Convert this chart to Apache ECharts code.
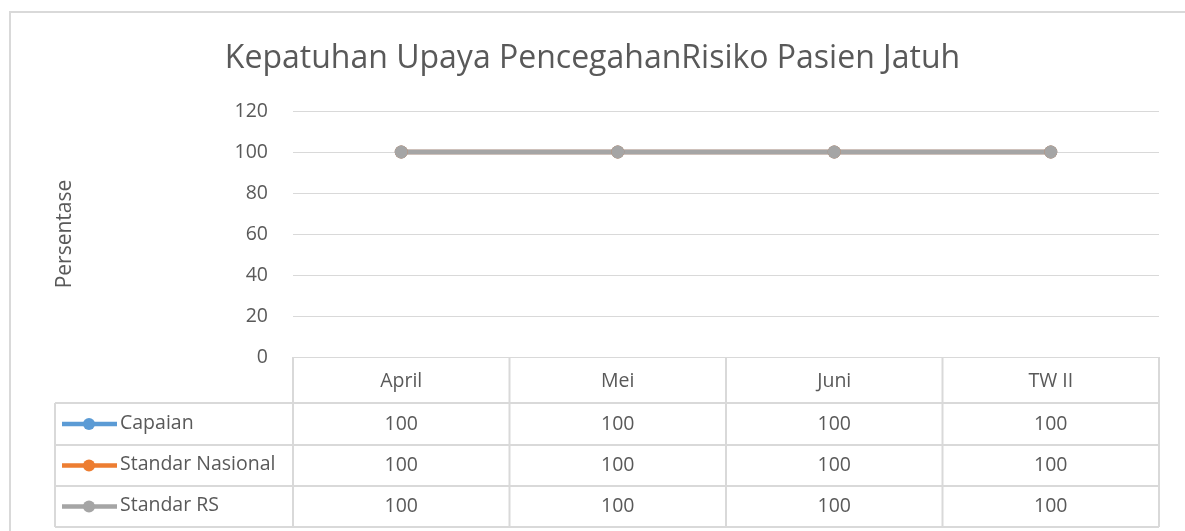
<!DOCTYPE html>
<html>
<head>
<meta charset="utf-8">
<script src="https://cdn.jsdelivr.net/npm/echarts@6/dist/echarts.min.js"></script>
<style>
  html, body { margin: 0; padding: 0; background: #fff; }
  #chart { width: 1185px; height: 531px; }
</style>
</head>
<body>
<div id="chart"></div>
<script>
// data
const categories = ['April', 'Mei', 'Juni', 'TW II'];
const capaian = [100, 100, 100, 100];
const standarNasional = [100, 100, 100, 100];
const standarRS = [100, 100, 100, 100];
const seriesNames = ['Capaian', 'Standar Nasional', 'Standar RS'];
const seriesColors = ['#5b9bd5', '#ed7d31', '#a5a5a5'];
const seriesData = [capaian, standarNasional, standarRS];

const font = '"Open Sans", "Noto Sans", sans-serif';
const txt = '#595959';
const lineCol = '#d9d9d9';

const gridLeft = 293, gridRight = 26, gridTop = 111, gridBottom = 174;
// table row edges (below the plot)
const rowTops = [403, 445, 486, 527];
const tableLeft = 55;

let chart = echarts.init(document.getElementById('chart'));

let option = {
    animation: false,
    backgroundColor: '#fff',
    title: {
        text: 'Kepatuhan Upaya PencegahanRisiko Pasien Jatuh',
        left: 'center',
        top: 38,
        textStyle: { fontFamily: font, fontSize: 32, fontWeight: 'normal', color: txt }
    },
    grid: { left: gridLeft, right: gridRight, top: gridTop, bottom: gridBottom },
    xAxis: {
        type: 'category',
        data: categories,
        boundaryGap: true,
        axisLine: { lineStyle: { color: lineCol, width: 1 } },
        axisTick: { show: false },
        axisLabel: { margin: 14, fontFamily: font, fontSize: 19.5, color: txt }
    },
    yAxis: {
        type: 'value',
        min: 0,
        max: 120,
        interval: 20,
        name: 'Persentase',
        nameLocation: 'middle',
        nameGap: 217,
        nameTextStyle: { fontFamily: font, fontSize: 21, color: txt },
        axisLine: { show: false },
        axisTick: { show: false },
        axisLabel: { margin: 25, fontFamily: font, fontSize: 19.5, color: txt },
        splitLine: { lineStyle: { color: lineCol, width: 1 } }
    },
    series: seriesNames.map((name, i) => ({
        name: name,
        type: 'line',
        data: seriesData[i],
        symbol: 'circle',
        symbolSize: 13,
        lineStyle: { color: seriesColors[i], width: 4.5 },
        itemStyle: { color: seriesColors[i] }
    }))
};

chart.setOption(option);

// data table under the plot, built from the axis positions
function buildTable() {
    const band = (1185 - gridLeft - gridRight) / categories.length;
    const centers = categories.map((c, i) => chart.convertToPixel({ xAxisIndex: 0 }, i));
    const edges = [gridLeft].concat(centers.map(c => c + band / 2));
    const right = edges[edges.length - 1];
    const plotBottom = 531 - gridBottom;
    const els = [];
    const ln = (x1, y1, x2, y2) => els.push({
        type: 'line', silent: true,
        shape: { x1: x1, y1: y1, x2: x2, y2: y2 },
        style: { stroke: lineCol, lineWidth: 2 }
    });
    // outer chart border
    els.push({
        type: 'rect', silent: true,
        shape: { x: 10, y: 12, width: 1190, height: 530 },
        style: { fill: null, stroke: lineCol, lineWidth: 2 }
    });
    rowTops.forEach(y => ln(tableLeft, y, right, y));
    ln(tableLeft, rowTops[0], tableLeft, rowTops[rowTops.length - 1]);
    edges.forEach(x => ln(x, plotBottom, x, rowTops[rowTops.length - 1]));
    seriesNames.forEach((name, r) => {
        const yc = (rowTops[r] + rowTops[r + 1]) / 2;
        ln(62, yc, 117, yc);
        els[els.length - 1].style = { stroke: seriesColors[r], lineWidth: 4.5 };
        els.push({
            type: 'circle', silent: true,
            shape: { cx: 89, cy: yc, r: 6 },
            style: { fill: seriesColors[r] }
        });
        els.push({
            type: 'text', silent: true, x: 120, y: yc - 1,
            style: { text: name, fill: txt, font: '19.5px ' + font, verticalAlign: 'middle', align: 'left' }
        });
        seriesData[r].forEach((v, i) => {
            els.push({
                type: 'text', silent: true, x: centers[i], y: yc,
                style: { text: String(v), fill: txt, font: '19.5px ' + font, verticalAlign: 'middle', align: 'center' }
            });
        });
    });
    chart.setOption({ graphic: els });
}
buildTable();
</script>
</body>
</html>
